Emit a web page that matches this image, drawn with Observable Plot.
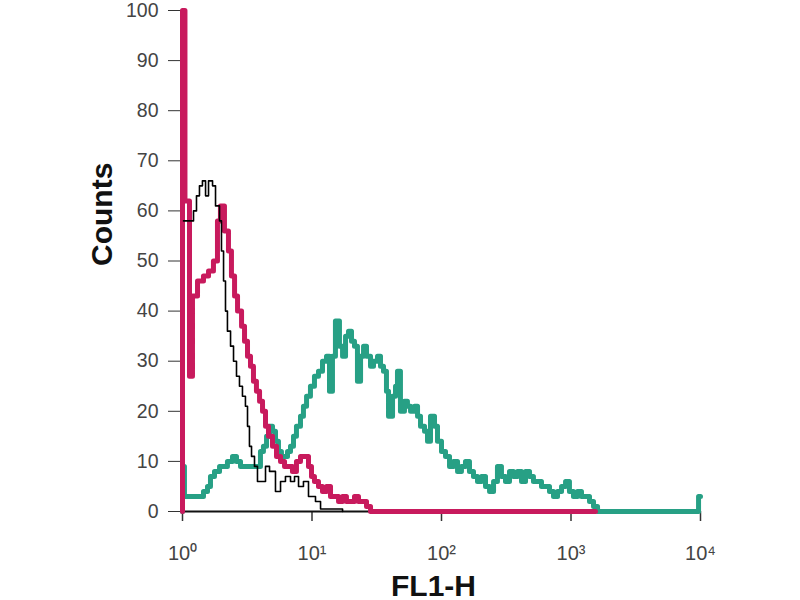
<!DOCTYPE html>
<html>
<head>
<meta charset="utf-8">
<script src="https://cdn.jsdelivr.net/npm/d3@7"></script>
<script src="https://cdn.jsdelivr.net/npm/@observablehq/plot@0.6"></script>
<style>
  html, body { margin: 0; padding: 0; background: #fff; }
  #chart svg { display: block; }
</style>
</head>
<body>
<div id="chart"></div>
<script>
// log10(FL1-H) positions and counts
const magentaLog = [0, 0, 0.019, 0.054, 0.077, 0.116, 0.162, 0.201, 0.239, 0.270, 0.293, 0.324, 0.355, 0.378, 0.402, 0.425, 0.456, 0.479, 0.502, 0.525, 0.548, 0.571, 0.595, 0.618, 0.641, 0.664, 0.695, 0.726, 0.757, 0.788, 0.819, 0.849, 0.880, 0.911, 0.942, 0.973, 0.996, 1.019, 1.050, 1.081, 1.112, 1.143, 1.174, 1.205, 1.236, 1.266, 1.297, 1.328, 1.359, 1.390, 1.421, 1.452, 3.189];
const magentaCounts = [0, 100, 62, 27, 43, 46, 47, 48, 50, 58, 61, 56, 52, 47, 43, 40, 37, 34, 31, 29, 26, 24, 22, 20, 17, 15, 13, 11, 10, 9, 9, 8, 10, 11, 11, 9, 7, 6, 5, 4, 5, 3, 3, 2, 3, 2, 2, 3, 2, 2, 1, 0, 0];

const blackLog = [0.008, 0.085, 0.108, 0.131, 0.154, 0.178, 0.201, 0.232, 0.255, 0.286, 0.301, 0.317, 0.332, 0.347, 0.371, 0.394, 0.417, 0.440, 0.463, 0.486, 0.502, 0.517, 0.533, 0.556, 0.579, 0.610, 0.641, 0.672, 0.718, 0.757, 0.795, 0.834, 0.865, 0.896, 0.934, 0.973, 1.027, 1.066, 1.236];
const blackCounts = [58, 60, 63, 65, 66, 63, 66, 65, 61, 58, 52, 46, 40, 36, 33, 30, 27, 25, 23, 21, 17, 13, 11, 9, 6, 6, 9, 8, 4, 6, 7, 6, 7, 5, 6, 3, 2, 0.5, 0];

const tealLog = [0, 0, 0.015, 0.062, 0.108, 0.162, 0.193, 0.216, 0.247, 0.286, 0.324, 0.347, 0.386, 0.417, 0.448, 0.494, 0.541, 0.571, 0.602, 0.625, 0.649, 0.672, 0.695, 0.718, 0.741, 0.764, 0.788, 0.811, 0.834, 0.857, 0.880, 0.911, 0.934, 0.958, 0.988, 1.019, 1.050, 1.081, 1.112, 1.135, 1.158, 1.181, 1.212, 1.236, 1.259, 1.282, 1.305, 1.328, 1.351, 1.375, 1.398, 1.421, 1.452, 1.475, 1.506, 1.529, 1.552, 1.575, 1.591, 1.622, 1.645, 1.660, 1.683, 1.714, 1.737, 1.761, 1.792, 1.815, 1.838, 1.869, 1.892, 1.915, 1.946, 1.969, 2.000, 2.031, 2.062, 2.093, 2.124, 2.154, 2.185, 2.216, 2.247, 2.278, 2.309, 2.340, 2.371, 2.402, 2.432, 2.463, 2.494, 2.525, 2.556, 2.587, 2.618, 2.649, 2.680, 2.710, 2.741, 2.772, 2.803, 2.834, 2.865, 2.896, 2.927, 2.958, 2.988, 3.019, 3.050, 3.081, 3.112, 3.143, 3.174, 3.205, 3.985, 4.0];
const tealCounts = [0, 9, 3, 3, 3, 4, 5, 7, 8, 9, 9, 10, 11, 10, 9, 9, 9, 9, 12, 13, 15, 17, 16, 14, 12, 11, 11, 12, 13, 15, 17, 19, 21, 23, 25, 27, 28, 30, 31, 24, 31, 38, 33, 31, 35, 36, 34, 33, 26, 31, 33, 31, 29, 30, 31, 29, 28, 24, 19, 23, 25, 28, 20, 22, 21, 20, 21, 19, 17, 16, 14, 19, 17, 14, 12, 11, 9, 10, 8, 9, 10, 8, 7, 6, 7, 5, 4, 6, 9, 7, 6, 8, 7, 8, 6, 8, 7, 6, 6, 5, 5, 4, 3, 4, 5, 6, 4, 3, 4, 3, 3, 2, 1, 0, 3, 3];

const xTicks = [1, 10, 100, 1000, 10000];
const xTickLabels = ["10⁰", "10¹", "10²", "10³", "10⁴"];
const yTicks = [0, 10, 20, 30, 40, 50, 60, 70, 80, 90, 100];

const toRows = (logs, counts) => logs.map((l, i) => ({fl: 10 ** l, count: counts[i]}));
const magenta = toRows(magentaLog, magentaCounts);
const black = toRows(blackLog, blackCounts);
const teal = toRows(tealLog, tealCounts);

const chart = Plot.plot({
  width: 800,
  height: 600,
  marginLeft: 182,
  marginRight: 100,
  marginTop: 10,
  marginBottom: 89,
  style: {fontFamily: "'Liberation Sans', Arial, sans-serif", color: "#444", background: "#fff"},
  x: {type: "log", domain: [1, 10000]},
  y: {domain: [0, 100]},
  marks: [
    Plot.axisY({ticks: yTicks, tickSize: 14, tickPadding: 10, fontSize: 19.5, label: null, stroke: "#333"}),
    Plot.axisX({ticks: xTicks, tickFormat: (d) => xTickLabels[xTicks.indexOf(d)], tickSize: 10, tickPadding: 24, fontSize: 20, label: null, stroke: "#333", strokeWidth: 1.5}),
    Plot.ruleY([0], {stroke: "#111", strokeWidth: 2}),
    Plot.line(teal, {x: "fl", y: "count", curve: "step-after", stroke: "#27a085", strokeWidth: 5}),
    Plot.line(magenta, {x: "fl", y: "count", curve: "step-after", stroke: "#c81a5d", strokeWidth: 5}),
    Plot.line(black, {x: "fl", y: "count", curve: "step-after", stroke: "#000", strokeWidth: 1.6}),
    Plot.text(["Counts"], {frameAnchor: "left", dx: -80, dy: 5, rotate: -90, fontSize: 30, fontWeight: "bold", fill: "#111", lineAnchor: "middle"}),
    Plot.text(["FL1-H"], {frameAnchor: "bottom", dx: -8, dy: 84, fontSize: 30, fontWeight: "bold", fill: "#111", lineAnchor: "bottom"})
  ]
});
document.getElementById("chart").appendChild(chart);
</script>
</body>
</html>
